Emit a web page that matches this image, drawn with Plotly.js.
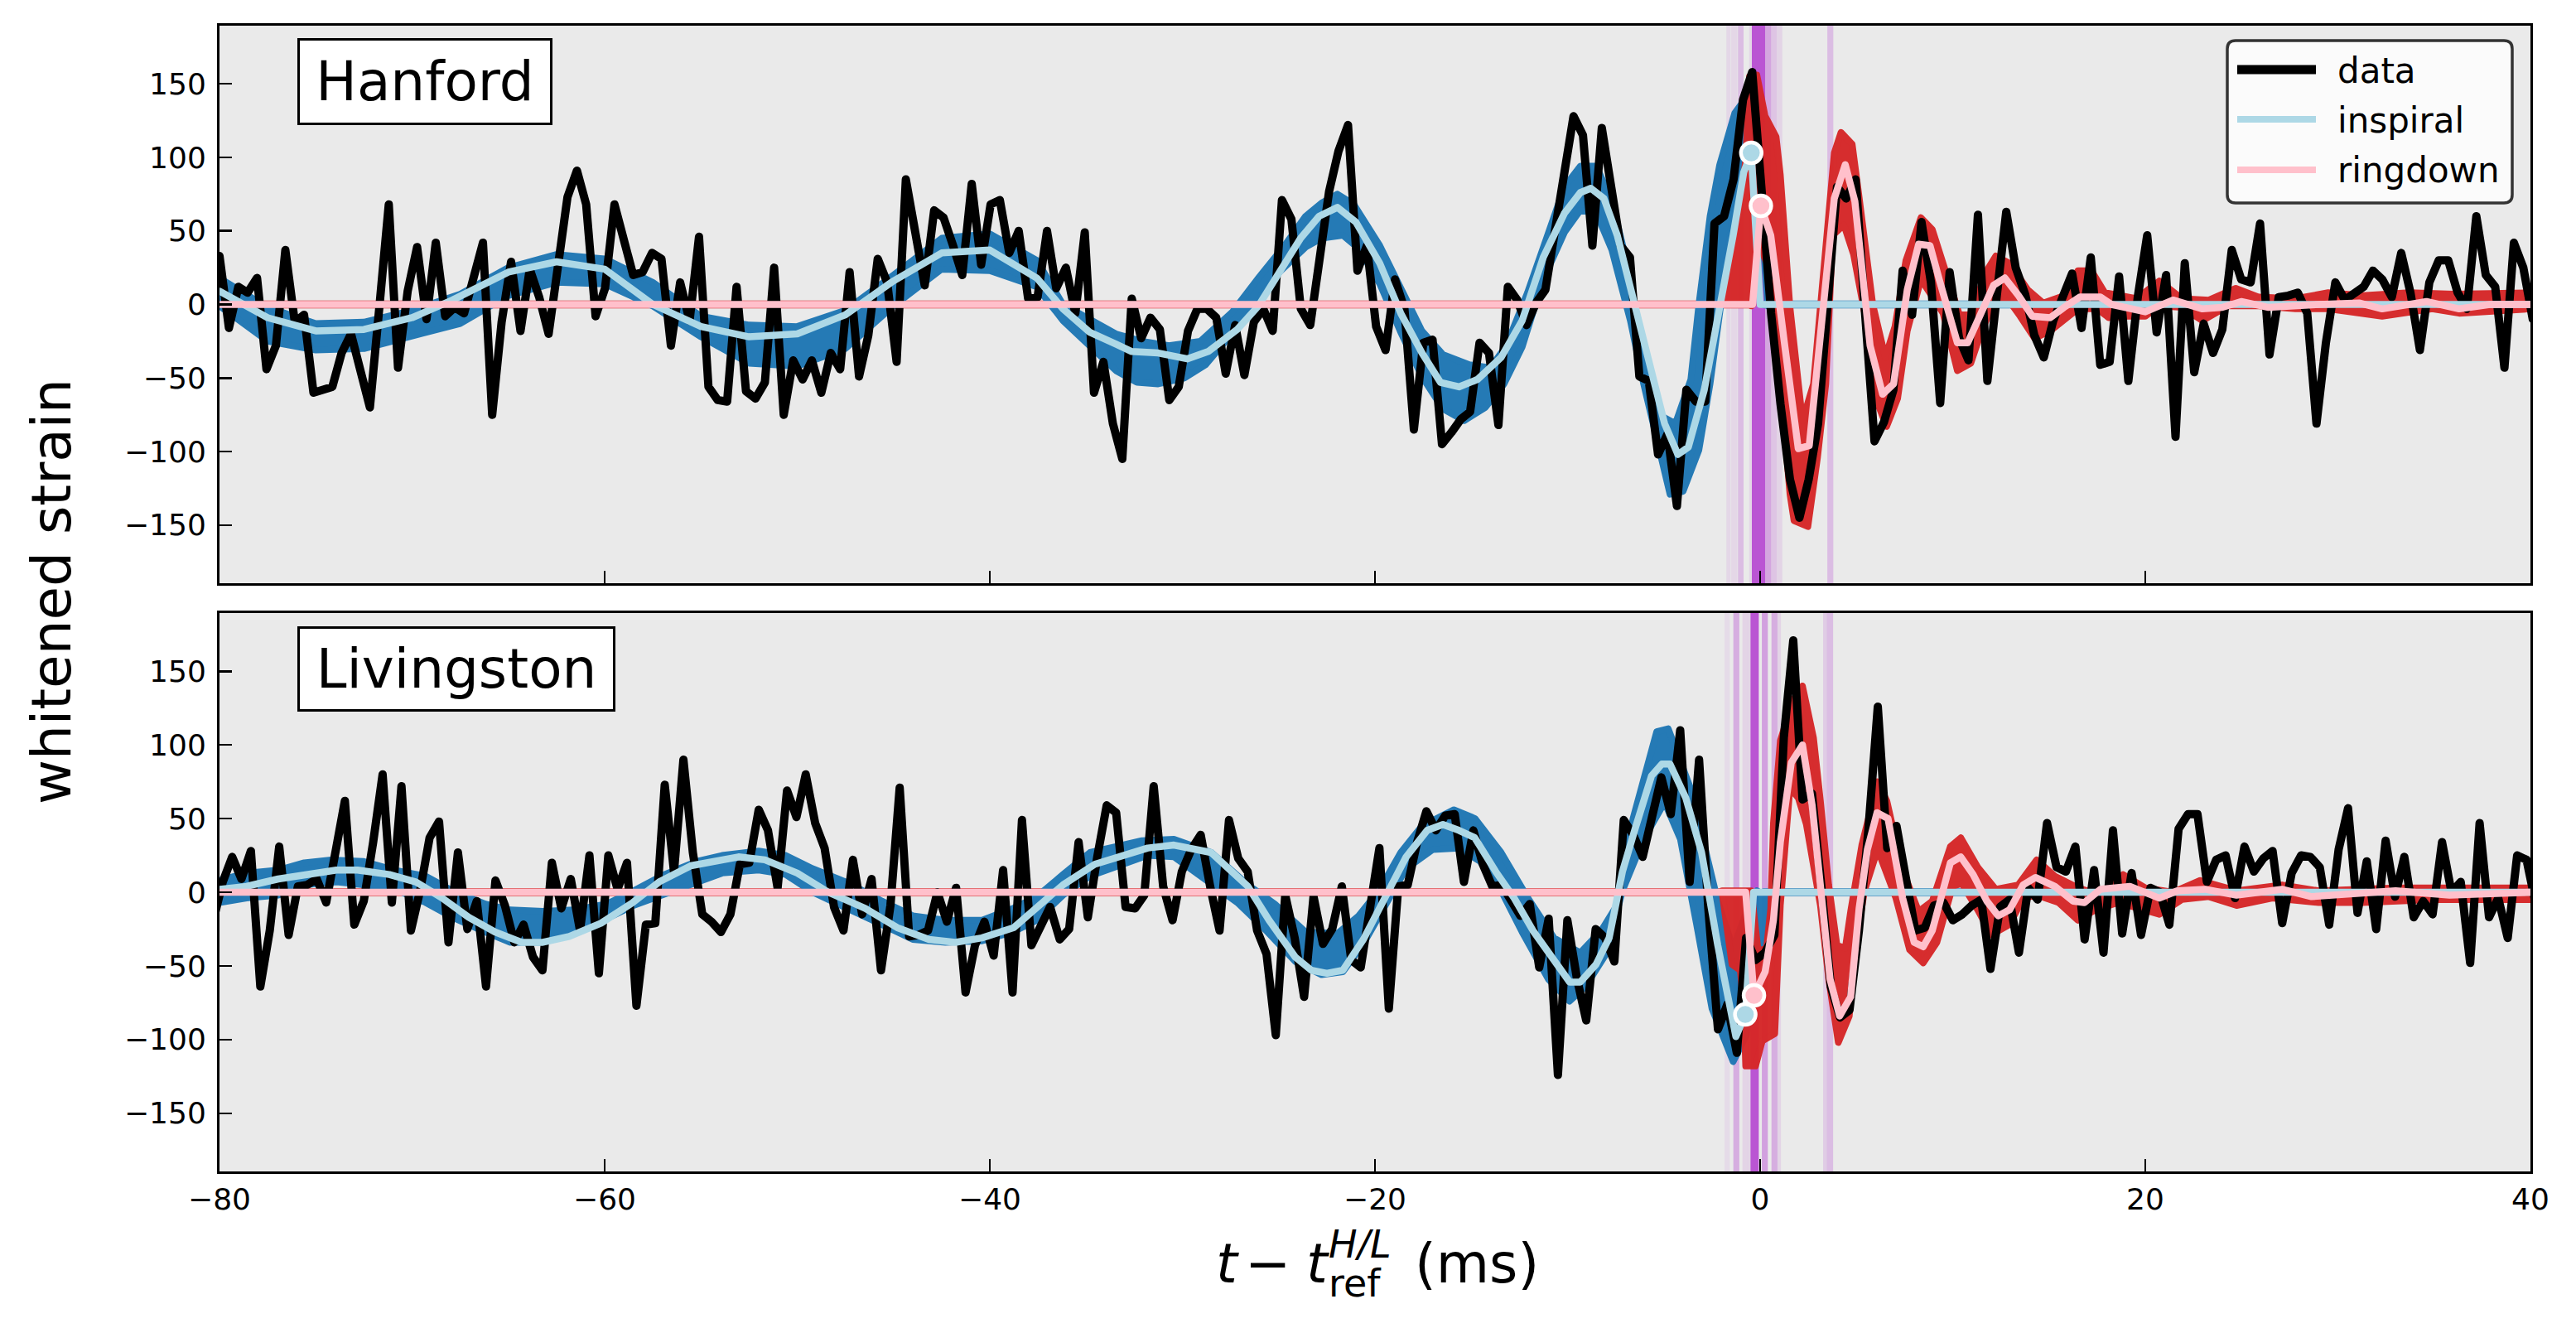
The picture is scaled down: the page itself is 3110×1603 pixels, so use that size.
<!DOCTYPE html>
<html><head><meta charset="utf-8">
<script src="https://cdn.plot.ly/plotly-3.0.1.min.js"></script>
<style>html,body{margin:0;padding:0;background:#fff}.js-line{stroke-linejoin:round!important;stroke-linecap:round}</style>
</head><body><div id="chart" style="width:3110px;height:1603px"></div>
<script>
const sampleTimes=[-80,-79.51,-79.02,-78.54,-78.05,-77.56,-77.07,-76.58,-76.09,-75.61,
-75.12,-74.63,-74.14,-73.66,-73.17,-72.68,-72.19,-71.70,-71.21,-70.73,
-70.23,-69.74,-69.25,-68.77,-68.28,-67.79,-67.30,-66.81,-66.32,-65.84,
-65.35,-64.86,-64.37,-63.89,-63.40,-62.91,-62.42,-61.93,-61.44,-60.96,
-60.47,-59.98,-59.49,-59.01,-58.52,-58.03,-57.54,-57.05,-56.56,-56.08,
-55.59,-55.10,-54.61,-54.13,-53.64,-53.15,-52.66,-52.17,-51.68,-51.20,
-50.70,-50.21,-49.72,-49.24,-48.75,-48.26,-47.77,-47.28,-46.79,-46.31,
-45.82,-45.33,-44.84,-44.36,-43.87,-43.38,-42.89,-42.40,-41.91,-41.43,
-40.94,-40.45,-39.96,-39.48,-38.99,-38.50,-38.01,-37.52,-37.03,-36.55,
-36.05,-35.56,-35.07,-34.59,-34.10,-33.61,-33.12,-32.63,-32.14,-31.66,
-31.17,-30.68,-30.19,-29.71,-29.22,-28.73,-28.24,-27.75,-27.26,-26.78,
-26.29,-25.80,-25.31,-24.83,-24.34,-23.85,-23.36,-22.87,-22.38,-21.90,
-21.40,-20.91,-20.42,-19.94,-19.45,-18.96,-18.47,-17.98,-17.49,-17.01,
-16.52,-16.03,-15.54,-15.06,-14.57,-14.08,-13.59,-13.10,-12.61,-12.13,
-11.64,-11.15,-10.66,-10.18,-9.69,-9.20,-8.71,-8.22,-7.73,-7.25,
-6.76,-6.27,-5.78,-5.30,-4.81,-4.32,-3.83,-3.34,-2.85,-2.37,
-1.87,-1.38,-0.89,-0.41,0.08,0.57,1.06,1.55,2.04,2.52,
3.01,3.50,3.99,4.47,4.96,5.45,5.94,6.43,6.92,7.40,
7.89,8.38,8.87,9.35,9.84,10.33,10.82,11.31,11.80,12.28,
12.78,13.27,13.76,14.24,14.73,15.22,15.71,16.20,16.69,17.17,
17.66,18.15,18.64,19.12,19.61,20.10,20.59,21.08,21.57,22.05,
22.54,23.03,23.52,24.00,24.49,24.98,25.47,25.96,26.45,26.93,
27.43,27.92,28.41,28.89,29.38,29.87,30.36,30.85,31.34,31.82,
32.31,32.80,33.29,33.77,34.26,34.75,35.24,35.73,36.22,36.70,
37.19,37.68,38.17,38.65,39.14,39.63,40.12,40.61];
const livingstonShift=-0.32;
const dataH=[33,-16,12,8,18,-44,-28,37,-12,-7,-60,-58,-56,-33,-20,-45,-70,-2,68,-43,9,39,-10,42,-8,-2,-6,18,42,-75,-12,29,-18,24,5,-20,25,73,91,68,-8,11,68,42,20,22,35,31,-28,15,-11,46,-56,-65,-66,12,-59,-64,-53,25,-75,-38,-51,-38,-60,-33,-44,22,-49,-21,31,15,-39,85,45,13,64,59,40,20,82,27,68,71,35,50,4,5,
50,11,25,-6,49,-60,-39,-81,-105,4,-23,-9,-17,-65,-56,-18,-3,-3,-9,-47,-14,-48,-12,-3,-18,71,58,-3,-14,35,77,104,122,23,40,-15,-31,17,-3,-85,-26,-24,-95,-87,-78,-73,-26,-33,-82,12,3,-14,1,10,47,85,128,115,40,120,75,40,32,-49,-52,-102,-88,-137,
-58,-66,-66,55,60,85,139,158,77,-6,-68,-119,-145,-119,-81,-1,80,72,85,-6,-93,-80,-58,23,
-7,56,15,-67,22,-23,-38,61,-52,5,63,25,7,-21,-36,-11,7,21,-16,32,-41,-39,19,-52,5,47,-19,20,-90,28,-46,-13,-33,-17,37,17,15,55,-34,5,6,8,-6,-81,-26,15,3,7,12,23,17,5,35,8,-31,15,30,30,8,-3,60,20,12,-43,42,25,-10];
const dataL=[-19,7,24,9,28,-64,-26,31,-29,4,5,9,-7,29,62,-22,-6,34,80,-7,72,-26,2,37,48,-34,27,-25,-6,-64,8,-9,-34,-22,-44,-53,20,-11,9,-26,25,-55,25,2,20,-77,-22,-21,73,14,90,27,-15,-20,-27,-15,19,20,56,42,3,69,51,80,47,30,-10,-26,22,-15,9,-53,-9,71,-30,-29,-26,0,-20,3,-68,-36,-20,-43,15,-68,49,-36,
-24,-10,-32,-25,34,-17,24,59,54,-10,-11,-2,72,4,-19,14,29,39,4,-26,49,23,14,-26,-42,-97,-2,-31,-71,-3,-35,-25,4,-46,-51,-11,30,-79,4,5,34,55,42,52,53,7,42,19,4,5,-6,-16,-8,-51,-18,-124,-19,-58,-87,-25,-31,-47,49,39,24,51,78,53,110,7,90,-11,-93,-76,-109,-31,-46,-41,-29,
105,171,63,67,4,-64,-85,-80,-26,42,126,30,45,
9,-26,-24,-9,-7,-19,-15,-9,-5,-52,-10,-5,-41,3,-5,47,17,14,31,-32,15,-41,42,-28,13,-29,3,0,-22,43,53,53,7,22,25,-4,31,14,23,28,-21,13,25,24,17,-22,29,57,-14,21,-25,35,-3,24,-17,-6,-15,34,0,7,-48,47,-17,-4,-31,25,22,-9];

const inspiralTimeH=[-80,-77.5,-75,-72.5,-70,-67.9,-65,-62.5,-60,-57.5,-55,-52.5,-50,-47.5,-45,-42.5,-40,-37.56,-36.2,-34.8,-33.45,-32.63,-31.26,-29.75,-28.66,-27.15,-26.05,-24.82,-23.86,-22.9,-21.95,-20.99,-19.75,-18.66,-17.56,-16.6,-15.64,-14.68,-13.45,-12.36,-11.26,-10.16,-9.34,-8.79,-8.11,-7.42,-6.6,-5.78,-4.96,-4.27,-3.73,-2.9,-2.08,-1.4,-0.85,-0.46,0,40];
const inspiralH=[9,-9,-18,-17,-9,3,22,29,24,0,-15,-22,-20,-7,16,35,37,18,-3,-19,-27,-32,-33,-37,-32,-17,-1,25,45,60,66,56,28,-6,-33,-53,-56,-51,-36,-11,32,62,76,79,72,47,5,-41,-81,-102,-97,-58,-3,47,90,103,0,0];
const ringdownTimeH=[-80,-0.39,0.04,0.55,1.26,1.98,2.55,3.13,3.85,4.42,4.92,5.71,6.36,6.93,7.64,8.23,8.82,9.3,9.88,10.24,10.78,11.3,12.12,12.71,13.42,14.13,15.07,15.78,16.6,17.67,18.25,20,21.44,22.97,24,24.98,26.4,29,31.1,32.3,33.5,34.6,36.3,37.9,40];
const ringdownH=[0,0,67,47,-26,-98,-96,-18,72,95,70,-28,-61,-54,10,41,40,17,-8,-26,-26,-11,13,18,6,-8,-9,-2,5,5,0,-5,3,-3,-2,2,-2,0,1,-3,-1,2,-3,0,0];
const inspiralUpperTimeH=[-80,-77.5,-75,-72.5,-70,-67.5,-65,-62.5,-60,-57.5,-55,-52.5,-50,-47.5,-45,-42.5,-40,-37.56,-36.2,-34.8,-33.45,-32.1,-30.7,-29.07,-27.4,-26.05,-24.7,-23.6,-22.77,-21.95,-21.1,-19.75,-18.66,-17.56,-16.47,-15.1,-14,-13.18,-12.08,-11,-10.16,-9.34,-8.5,-7.7,-7,-6.2,-5.1,-4.4,-3.6,-3.18,-2.6,-2.1,-1.32,-0.6,-0.2,0.3,0.4];
const inspiralUpperH=[18,-2,-13,-12,-4,7,25,34,31,15,-8,-14,-15,-4,20,45,48,30,0,-10,-20,-25,-28,-25,-5,18,40,60,69,75,68,40,10,-18,-34,-41,-43,-28,8,50,80,94,94,70,33,-31,-76,-81,-51,0,60,95,130,143,120,40,1];
const inspiralLowerTimeH=[-80,-77.5,-75,-72.5,-70,-67.5,-65,-62.5,-60,-57.5,-55,-52.5,-50,-47.5,-45,-42.5,-40,-37.56,-36.2,-34.8,-33.45,-32.36,-31.26,-29.9,-28.8,-27.7,-26.3,-24.96,-23.6,-22.77,-21.67,-20.85,-19.75,-18.66,-17.56,-16.47,-15.37,-14.27,-13.3,-12.36,-11.26,-10.16,-9.34,-8.5,-7.7,-6.74,-6.05,-4.68,-4,-3.18,-2.6,-2,-1.5,-1.12,0,0.4];
const inspiralLowerH=[-1,-25,-31,-30,-21,-13,6,15,14,-1,-22,-40,-42,-30,-1,24,23,12,-11,-29,-45,-53,-54,-50,-41,-24,-1,22,39,45,47,38,14,-19,-49,-71,-79,-70,-54,-29,17,49,64,62,37,-11,-54,-129,-127,-99,-54,2,52,97,72,-1];
const ringdownUpperTimeH=[-1.89,-1.03,-0.75,-0.55,-0.17,0.26,0.83,1.05,1.55,2.2,2.77,3.13,3.41,3.85,4.2,4.78,5.14,5.85,6.5,7,7.57,8.35,8.94,9.65,10.35,10.9,11.77,12.24,12.95,13.9,14.7,15.8,16.5,17.2,17.9,19.55,20.73,21.9,23.3,24.7,25.9,27.8,29.5,31.3,33.7,36,40];
const ringdownUpperH=[1,68,98,155,156,128,114,88,-2,-79,-54,-2,33,103,117,109,73,0,-36,-15,30,59,51,23,-7,-7,23,33,28,10,1,6,23,23,8,4,16,4,3,11,5,4,8,6,8,7,8];
const ringdownLowerTimeH=[-0.46,-0.1,0.55,1.55,1.76,2.48,2.98,3.41,3.77,4.35,4.85,5.57,6,6.57,7.14,7.64,8.35,9.5,10.24,10.94,11.5,12.24,12.95,13.5,14.25,15.07,16.5,17.5,18.1,19.1,20,20.7,21.9,22.97,24.3,25.9,27.8,29.5,32.3,34.9,36.3,40];
const ringdownLowerH=[-1,42,22,-129,-147,-151,-104,-54,47,54,34,-16,-64,-83,-64,-18,17,-6,-45,-40,-18,4,2,-8,-23,-18,-3,-3,-9,-8,-8,-1,-2,-11,-1,-1,-3,-3,-8,-3,-6,-3];

const inspiralTimeL=[-80,-78.6,-76.95,-75.3,-73.93,-72.83,-71.18,-69.8,-68.43,-67.06,-65.69,-64.31,-63.21,-61.84,-60.19,-58.54,-57.17,-55.52,-54.15,-53.05,-51.68,-50,-48.38,-46.46,-44.81,-43.16,-41.79,-40.41,-38.76,-37.56,-36.2,-34.55,-33.45,-31.8,-30.44,-28.52,-26.6,-25.5,-24.14,-23.3,-22.5,-21.67,-20.6,-19.48,-18.38,-17.29,-16.47,-15.64,-14.82,-13.73,-12.77,-11.8,-10.71,-9.89,-9.34,-8.52,-7.84,-7.15,-6.47,-5.64,-5.1,-4.68,-3.86,-3.04,-2.2,-1.67,-1.26,-0.77,-0.34,40];
const inspiralL=[2,4,9,12,15,15,12,7,-4,-17,-27,-34,-34,-30,-21,-7,7,18,22,24,22,13,0,-11,-24,-32,-34,-31,-24,-11,5,19,23,30,32,27,4,-19,-44,-53,-55,-53,-32,-4,24,42,46,42,37,14,-4,-26,-45,-61,-61,-49,-31,14,44,79,87,87,64,27,-36,-74,-98,-83,0,0];
const ringdownTimeL=[-80,-0.75,-0.32,0.26,0.69,1.05,1.62,2.2,2.7,3.13,3.63,4.13,4.7,5.14,5.57,6.07,6.64,7.4,8,8.47,8.94,9.88,10.42,11.06,11.77,12.36,12.95,13.66,14.3,15.3,16.25,16.84,17.67,19.2,20.73,21.67,23.1,24.74,27.1,28.63,33,35.8,40];
const ringdownL=[0,0,-70,-54,-19,34,88,100,59,-1,-59,-84,-71,-11,29,54,50,-4,-34,-37,-26,20,24,12,-6,-16,-12,5,10,4,-6,-7,2,4,-4,1,2,-2,2,-3,1,-2,0];
const inspiralUpperTimeL=[-80,-78.6,-76.95,-75.6,-74.2,-72.55,-70.9,-69.3,-67.9,-66.2,-64.9,-63.2,-61.6,-59.9,-58.5,-56.9,-55.2,-53.9,-52,-50.6,-49.2,-47.3,-45.6,-44,-42.3,-40.4,-38.8,-37.56,-36.2,-34.8,-33.45,-32.1,-30.44,-28.5,-26.6,-25.2,-23.6,-21.95,-20.85,-19.75,-18.66,-17.56,-15.9,-14.8,-13.45,-12.1,-10.7,-9.34,-8.25,-7.4,-6.6,-5.37,-4.77,-3.6,-2.2,-1.4,-0.7,-0.16,0.2,0.6];
const inspiralUpperL=[8,13,15,20,22,21,15,11,1,-8,-12,-13,-12,-8,1,12,21,25,28,25,16,6,-6,-16,-19,-19,-11,-3,12,27,31,35,36,27,5,-8,-27,-28,-16,2,27,45,56,50,27,-3,-31,-41,-26,-8,50,109,111,70,-6,-38,-13,1,-2,-1];
const inspiralLowerTimeL=[-80,-78.6,-76.95,-75.6,-73.9,-72.55,-70.9,-69.3,-67.9,-66.2,-64.9,-63.2,-61.6,-59.9,-58.5,-56.9,-55.2,-53.9,-52,-50.6,-49.2,-47.3,-45.6,-44,-42.3,-40.4,-38.8,-37.56,-36.2,-34.8,-33.45,-31.8,-30.44,-28.8,-27.15,-25.8,-24.14,-22.77,-21.67,-20.6,-19.5,-18.38,-17,-15.64,-14.55,-13.45,-12.36,-11,-9.9,-9.07,-8,-7.15,-6.05,-4.96,-4.14,-3.3,-2.5,-1.4,-0.71,-0.3,0.1,0.5,0.8];
const inspiralLowerL=[-7,-4,-2,5,7,5,2,-7,-17,-27,-34,-34,-28,-18,-9,-2,7,13,15,12,0,-12,-22,-32,-34,-33,-27,-19,-2,11,17,25,24,9,-7,-24,-47,-56,-54,-35,-9,16,29,30,21,1,-27,-59,-74,-64,-42,1,36,61,36,-22,-79,-115,-97,-60,-35,-35,-1];
const ringdownUpperTimeL=[-1.97,-0.46,-0.1,0.33,0.55,0.69,1.05,1.69,2.2,2.77,3.13,3.56,3.99,4.42,4.7,5.28,6.1,6.58,7.4,8.23,8.94,9.88,10.42,11.3,12.24,13.4,14.36,15.3,16.5,17.67,18.85,20,21.44,22.85,24.74,27.1,29,33,40];
const ringdownUpperL=[1,1,-40,-38,-11,47,103,130,140,105,62,5,-36,-38,-13,32,75,62,15,-13,-6,31,37,17,2,5,22,11,3,-2,12,3,0,8,1,5,1,3,3];
const ringdownLowerTimeL=[-1.97,-1.46,-1.03,-0.85,-0.75,-0.24,0.11,0.76,1.05,1.55,1.98,2.4,3.13,3.56,4.06,4.63,4.99,5.42,6.1,7.05,7.76,8.47,9.18,10,10.47,11.3,12,12.95,13.66,14.36,15.5,16.5,17.4,18.6,20.73,21.9,23.3,24.74,26.6,29,31.3,34.9,40];
const ringdownLowerL=[-1,-49,-53,-78,-118,-118,-101,-96,-9,71,64,46,-9,-59,-102,-84,-34,1,29,-4,-39,-48,-34,4,6,-12,-29,-22,-4,-2,-7,-19,-12,-7,-15,-5,-3,-9,-4,-7,-7,-5,-5];

const ringdownFlatTimeH=[-80,-0.4], inspiralFlatTimeH=[0.2,40];
const ringdownFlatTimeL=[-80,-0.5], inspiralFlatTimeL=[0.2,40];
const flatValue=[0,0];

const mergerTimeH=[-0.46,0.04], mergerValueH=[103,67];
const mergerTimeL=[-0.77,-0.32], mergerValueL=[-83,-70];

const stripeStartH=[-1.75,-1.50,-1.15,-0.57,-0.43,0.26,0.57,0.86,3.49];
const stripeEndH=[-1.53,-1.18,-0.86,-0.43,0.26,0.57,0.86,1.15,3.80];
const stripeAlphaH=[.12,.12,.3,.12,1,.45,.25,.15,.3];
const stripeStartL=[-1.85,-1.39,-0.92,-0.67,-0.50,0.09,0.59,0.90,3.27,3.46];
const stripeEndL=[-1.58,-1.08,-0.67,-0.50,-0.07,0.40,0.90,1.08,3.46,3.79];
const stripeAlphaL=[.1,.4,.15,.15,1,.5,.4,.15,.2,.3];

const xTicks=[-80,-60,-40,-20,0,20,40];
const yTicks=[-150,-100,-50,0,50,100,150];
const legendLabels=['data','inspiral','ringdown'];

const BLUE='#1f77b4',RED='#d62728',BLACK='#000000',LB='#add8e6',PK='#ffc0cb';
const W=3110,H=1603;
const px=x=>x/W, py=y=>1-y/H;

function band(tU,vU,tL,vL,color,xa,ya){
  return {x:tU.concat(tL.slice().reverse()),y:vU.concat(vL.slice().reverse()),mode:'lines',fill:'toself',
    fillcolor:color,line:{color:color,width:8},opacity:.97,xaxis:xa,yaxis:ya,hoverinfo:'skip',showlegend:false};
}
function line(t,v,color,w,name,xa,ya){
  return {x:t,y:v,mode:'lines',name:name,line:{color:color,width:w},xaxis:xa,yaxis:ya,showlegend:false};
}
function dots(t,v,colors,xa,ya){
  return {x:t,y:v,mode:'markers',marker:{size:25,color:colors,line:{color:'#ffffff',width:4.5}},xaxis:xa,yaxis:ya,showlegend:false};
}
const timesL=sampleTimes.map(t=>t+livingstonShift);
const traces=[
 line(ringdownFlatTimeH,flatValue,RED,9.5,'ringdown band','x2','y2'),
 line(inspiralFlatTimeH,flatValue,BLUE,9.5,'inspiral band','x2','y2'),
 band(inspiralUpperTimeH,inspiralUpperH,inspiralLowerTimeH,inspiralLowerH,BLUE,'x2','y2'),
 band(ringdownUpperTimeH,ringdownUpperH,ringdownLowerTimeH,ringdownLowerH,RED,'x2','y2'),
 line(sampleTimes,dataH,BLACK,10,'data','x2','y2'),
 line(inspiralTimeH,inspiralH,LB,8.5,'inspiral','x2','y2'),
 line(ringdownTimeH,ringdownH,PK,8.5,'ringdown','x2','y2'),
 dots(mergerTimeH,mergerValueH,[LB,PK],'x2','y2'),
 line(ringdownFlatTimeL,flatValue,RED,9.5,'ringdown band','x','y'),
 line(inspiralFlatTimeL,flatValue,BLUE,9.5,'inspiral band','x','y'),
 band(inspiralUpperTimeL,inspiralUpperL,inspiralLowerTimeL,inspiralLowerL,BLUE,'x','y'),
 band(ringdownUpperTimeL,ringdownUpperL,ringdownLowerTimeL,ringdownLowerL,RED,'x','y'),
 line(timesL,dataL,BLACK,10,'data','x','y'),
 line(inspiralTimeL,inspiralL,LB,8.5,'inspiral','x','y'),
 line(ringdownTimeL,ringdownL,PK,8.5,'ringdown','x','y'),
 dots(mergerTimeL,mergerValueL,[LB,PK],'x','y')
];

const shapes=[];
function stripes(a,b,c,xa,ya){a.forEach((s,i)=>shapes.push({type:'rect',layer:'below',xref:xa,yref:ya+' domain',x0:s,x1:b[i],y0:0,y1:1,fillcolor:'#ba55d3',opacity:c[i],line:{width:0}}));}
stripes(stripeStartH,stripeEndH,stripeAlphaH,'x2','y2');
stripes(stripeStartL,stripeEndL,stripeAlphaL,'x','y');
const lx0=2689,lx1=3033,ly0=49,ly1=245,r=10;
shapes.push({type:'path',xref:'paper',yref:'paper',layer:'above',fillcolor:'rgba(255,255,255,0.8)',line:{color:'#333333',width:3.5},
 path:`M ${px(lx0+r)} ${py(ly0)} L ${px(lx1-r)} ${py(ly0)} Q ${px(lx1)} ${py(ly0)} ${px(lx1)} ${py(ly0+r)} L ${px(lx1)} ${py(ly1-r)} Q ${px(lx1)} ${py(ly1)} ${px(lx1-r)} ${py(ly1)} L ${px(lx0+r)} ${py(ly1)} Q ${px(lx0)} ${py(ly1)} ${px(lx0)} ${py(ly1-r)} L ${px(lx0)} ${py(ly0+r)} Q ${px(lx0)} ${py(ly0)} ${px(lx0+r)} ${py(ly0)} Z`});
const legendY=[84,144,205],legendColor=[BLACK,LB,PK],legendW=[11,8,8];
legendLabels.forEach((l,i)=>shapes.push({type:'line',xref:'paper',yref:'paper',layer:'above',x0:px(2701),x1:px(2796),y0:py(legendY[i]),y1:py(legendY[i]),line:{color:legendColor[i],width:legendW[i]}}));

const DJ='DejaVu Sans';
function note(text,x,y,size,xa,ya,extra){return Object.assign({text:text,xref:'paper',yref:'paper',x:px(x),y:py(y),xanchor:xa,yanchor:ya,showarrow:false,font:{family:DJ,size:size,color:'#000'}},extra||{});}
const annotations=[
 note('Hanford',359,46,66,'left','top',{width:302,height:99,bgcolor:'#fff',bordercolor:'#000',borderwidth:3,borderpad:0,align:'center',valign:'middle'}),
 note('Livingston',359,756,66,'left','top',{width:378,height:97,bgcolor:'#fff',bordercolor:'#000',borderwidth:3,borderpad:0,align:'center',valign:'middle'}),
 note('whitened strain',63,714,66,'center','middle',{textangle:-90}),
 note('<i>t</i>',1466,1525,66,'left','middle'),
 note('−',1501,1525,66,'left','middle'),
 note('<i>t</i>',1575,1525,66,'left','middle'),
 note('<i>H/L</i>',1602,1502,46,'left','middle',{height:38}),
 note('ref',1602,1549,46,'left','middle',{height:38}),
 note('(ms)',1706,1525,66,'left','middle')
];
legendLabels.forEach((l,i)=>annotations.push(note(l,2820,legendY[i]+1,42,'left','middle')));

const tickFont={family:DJ,size:36,color:'#000'};
const yAxis={range:[-189.5,189.5],tickvals:yTicks,ticks:'inside',ticklen:15,tickwidth:2.5,tickcolor:'#000',showline:true,mirror:true,linecolor:'#000',linewidth:3,showgrid:false,zeroline:false,tickfont:tickFont,ticklabelstandoff:6};
const xAxis={range:[-80,40],tickvals:xTicks,ticks:'inside',ticklen:15,tickwidth:2.5,tickcolor:'#000',showline:true,mirror:true,linecolor:'#000',linewidth:3,showgrid:false,zeroline:false,tickfont:tickFont};
const layout={width:W,height:H,margin:{l:0,r:0,t:0,b:0},paper_bgcolor:'#fff',plot_bgcolor:'#eaeaea',showlegend:false,hovermode:false,
 xaxis:Object.assign({},xAxis,{domain:[px(265),px(3055)],anchor:'y'}),
 yaxis:Object.assign({},yAxis,{domain:[py(1414),py(740)],anchor:'x'}),
 xaxis2:Object.assign({},xAxis,{domain:[px(265),px(3055)],anchor:'y2',showticklabels:false}),
 yaxis2:Object.assign({},yAxis,{domain:[py(704),py(31)],anchor:'x2'}),
 shapes:shapes,annotations:annotations};
Plotly.newPlot('chart',traces,layout,{displayModeBar:false,staticPlot:true});
</script></body></html>
